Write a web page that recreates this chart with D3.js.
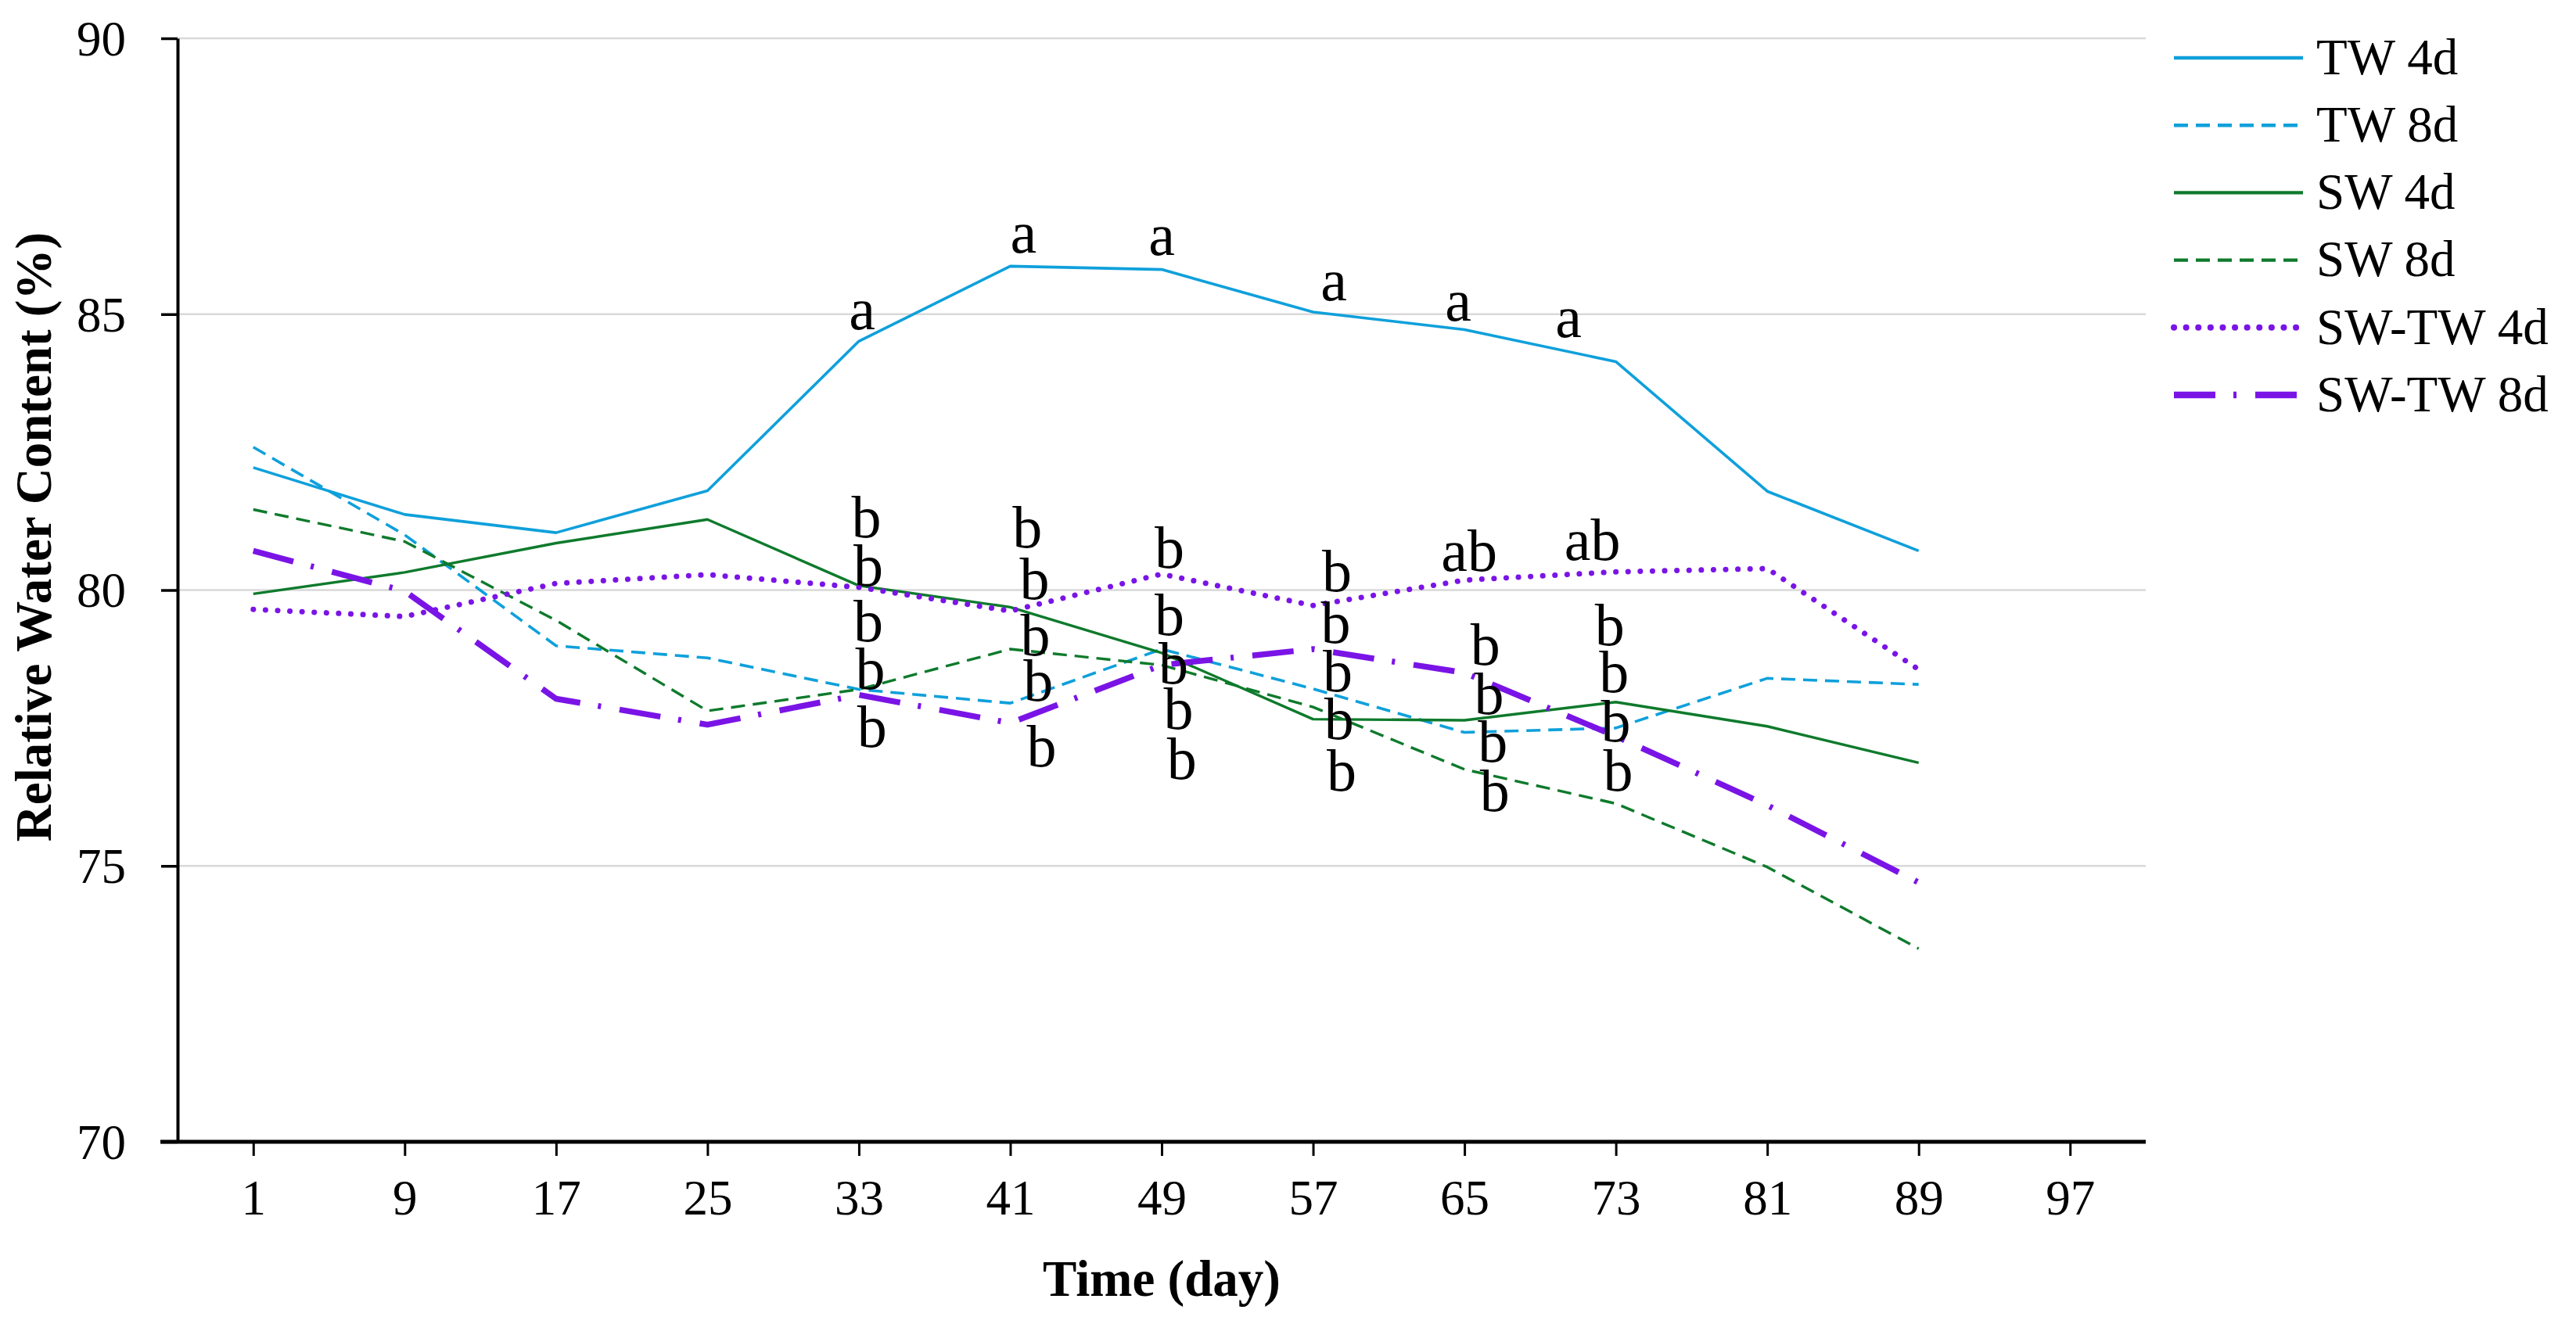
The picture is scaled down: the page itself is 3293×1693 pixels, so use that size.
<!DOCTYPE html>
<html>
<head>
<meta charset="utf-8">
<script src="https://cdn.jsdelivr.net/npm/d3@7"></script>
<style>
  body { margin: 0; background: #fff; }
  text { font-family: "Liberation Serif", "DejaVu Serif", serif; fill: #000; }
</style>
</head>
<body>
<div id="chart"></div>
<script>
// data
var days = [1, 9, 17, 25, 33, 41, 49, 57, 65, 73, 81, 89];
var tickDays = [1, 9, 17, 25, 33, 41, 49, 57, 65, 73, 81, 89, 97];
var yTicks = [70, 75, 80, 85, 90];

var seriesNames = ["TW 4d", "TW 8d", "SW 4d", "SW 8d", "SW-TW 4d", "SW-TW 8d"];
var tw4d   = [82.22, 81.37, 81.04, 81.80, 84.51, 85.87, 85.81, 85.04, 84.72, 84.14, 81.79, 80.71];
var tw8d   = [82.59, 81.00, 78.99, 78.77, 78.20, 77.95, 78.93, 78.21, 77.42, 77.50, 78.40, 78.29];
var sw4d   = [79.93, 80.32, 80.85, 81.28, 80.08, 79.69, 78.86, 77.66, 77.64, 77.97, 77.53, 76.87];
var sw8d   = [81.46, 80.88, 79.45, 77.81, 78.20, 78.93, 78.64, 77.88, 76.75, 76.13, 74.98, 73.50];
var swtw4d = [79.65, 79.52, 80.12, 80.28, 80.05, 79.62, 80.29, 79.72, 80.18, 80.33, 80.39, 78.56];
var swtw8d = [80.71, 79.98, 78.03, 77.56, 78.10, 77.59, 78.64, 78.93, 78.50, 77.35, 76.10, 74.70];

// significance letters: [day, value, letter]
var sigLabels = [
  [33.17, 84.73, "a"], [33.4, 80.95, "b"], [33.5, 80.08, "b"], [33.5, 79.07, "b"], [33.6, 78.21, "b"], [33.7, 77.16, "b"],
  [41.7, 86.12, "a"], [41.9, 80.77, "b"], [42.28, 79.83, "b"], [42.32, 78.82, "b"], [42.48, 77.99, "b"], [42.65, 76.80, "b"],
  [49.0, 86.08, "a"], [49.41, 80.41, "b"], [49.41, 79.18, "b"], [49.62, 78.31, "b"], [49.89, 77.48, "b"], [50.06, 76.58, "b"],
  [58.1, 85.25, "a"], [58.26, 79.98, "b"], [58.2, 79.04, "b"], [58.3, 78.17, "b"], [58.37, 77.30, "b"], [58.51, 76.36, "b"],
  [64.67, 84.89, "a"], [65.25, 80.35, "ab"], [66.1, 78.64, "b"], [66.3, 77.75, "b"], [66.5, 76.89, "b"], [66.6, 76.00, "b"],
  [70.5, 84.58, "a"], [71.76, 80.55, "ab"], [72.67, 79.00, "b"], [72.9, 78.15, "b"], [73.0, 77.26, "b"], [73.12, 76.36, "b"]
];

var seriesValues = [tw4d, tw8d, sw4d, sw8d, swtw4d, swtw8d];

// line styles
var styles = {
  "TW 4d":    { color: "#0FA0DB", width: 3.6, dash: null, cap: "butt" },
  "TW 8d":    { color: "#0FA0DB", width: 3.6, dash: "18,10", cap: "butt" },
  "SW 4d":    { color: "#0E7A2C", width: 3.4, dash: null, cap: "butt" },
  "SW 8d":    { color: "#0E7A2C", width: 3.4, dash: "18,10", cap: "butt" },
  "SW-TW 4d": { color: "#7A14E6", width: 7, dash: "0.1,15.5", cap: "round" },
  "SW-TW 8d": { color: "#7A14E6", width: 7.5, dash: "53,23,4,24", cap: "butt" }
};

var svgWidth = 3293;
var svgHeight = 1693;
var margin = { top: 49, left: 227, right: 550, bottom: 233 };
var width = svgWidth - margin.left - margin.right;
var height = svgHeight - margin.top - margin.bottom;

var svg = d3.select("#chart")
  .append("svg")
  .attr("width", svgWidth)
  .attr("height", svgHeight);

var chartGroup = svg.append("g")
  .attr("transform", `translate(${margin.left}, ${margin.top})`);

var x = d3.scaleLinear().domain([-3, 101]).range([0, width]);
var y = d3.scaleLinear().domain([70, 90]).range([height, 0]);

// gridlines
chartGroup.selectAll(".grid")
  .data(yTicks.filter(d => d > 70))
  .enter()
  .append("line")
  .attr("x1", 0)
  .attr("x2", width)
  .attr("y1", d => y(d))
  .attr("y2", d => y(d))
  .attr("stroke", "#D9D9D9")
  .attr("stroke-width", 2.5);

// y axis
var leftAxis = d3.axisLeft(y).tickValues(yTicks).tickSize(21).tickSizeOuter(0).tickPadding(45);
var yAxisG = chartGroup.append("g").call(leftAxis);
yAxisG.select(".domain").attr("stroke-width", 4);
yAxisG.selectAll(".tick line").attr("stroke-width", 3.5);
yAxisG.selectAll(".tick text")
  .attr("font-size", 63)
  .attr("dy", "0.34em")
  .style("font-family", "Liberation Serif");

// x axis
var bottomAxis = d3.axisBottom(x).tickValues(tickDays).tickSize(18).tickSizeOuter(0);
var xAxisG = chartGroup.append("g")
  .attr("transform", `translate(0, ${height})`)
  .call(bottomAxis);
xAxisG.select(".domain").remove();
xAxisG.append("line")
  .attr("x1", -22).attr("x2", width)
  .attr("stroke", "#000").attr("stroke-width", 5);
xAxisG.selectAll(".tick line").attr("stroke-width", 3);
xAxisG.selectAll(".tick text")
  .attr("font-size", 63)
  .attr("y", 93)
  .attr("dy", 0)
  .style("font-family", "Liberation Serif");

// lines
var line = d3.line()
  .x((d, i) => x(days[i]))
  .y(d => y(d));

seriesNames.forEach(function(name, k) {
  var s = styles[name];
  chartGroup.append("path")
    .datum(seriesValues[k])
    .attr("d", line)
    .attr("fill", "none")
    .attr("stroke", s.color)
    .attr("stroke-width", s.width)
    .attr("stroke-dasharray", s.dash)
    .attr("stroke-linecap", s.cap)
    .attr("stroke-linejoin", "round");
});

// letters
chartGroup.selectAll(".sig")
  .data(sigLabels)
  .enter()
  .append("text")
  .attr("x", d => x(d[0]))
  .attr("y", d => y(d[1]))
  .attr("text-anchor", "middle")
  .attr("font-size", 76)
  .text(d => d[2]);

// axis titles
svg.append("text")
  .attr("transform", `translate(65, ${margin.top + height / 2 - 68}) rotate(-90)`)
  .attr("text-anchor", "middle")
  .attr("font-size", 65)
  .attr("font-weight", "bold")
  .text("Relative Water Content (%)");

svg.append("text")
  .attr("x", margin.left + width / 2)
  .attr("y", 1657)
  .attr("text-anchor", "middle")
  .attr("font-size", 65)
  .attr("font-weight", "bold")
  .text("Time (day)");

// legend
var legend = svg.append("g").attr("transform", "translate(2779, 74)");
seriesNames.forEach(function(name, k) {
  var s = styles[name];
  var row = legend.append("g").attr("transform", `translate(0, ${k * 86.2})`);
  row.append("line")
    .attr("x1", 0).attr("x2", 165)
    .attr("stroke", s.color)
    .attr("stroke-width", s.width + 1)
    .attr("stroke-dasharray", s.dash)
    .attr("stroke-linecap", s.cap);
  row.append("text")
    .attr("x", 182)
    .attr("dy", "0.32em")
    .attr("font-size", 65)
    .text(name);
});
</script>
</body>
</html>
